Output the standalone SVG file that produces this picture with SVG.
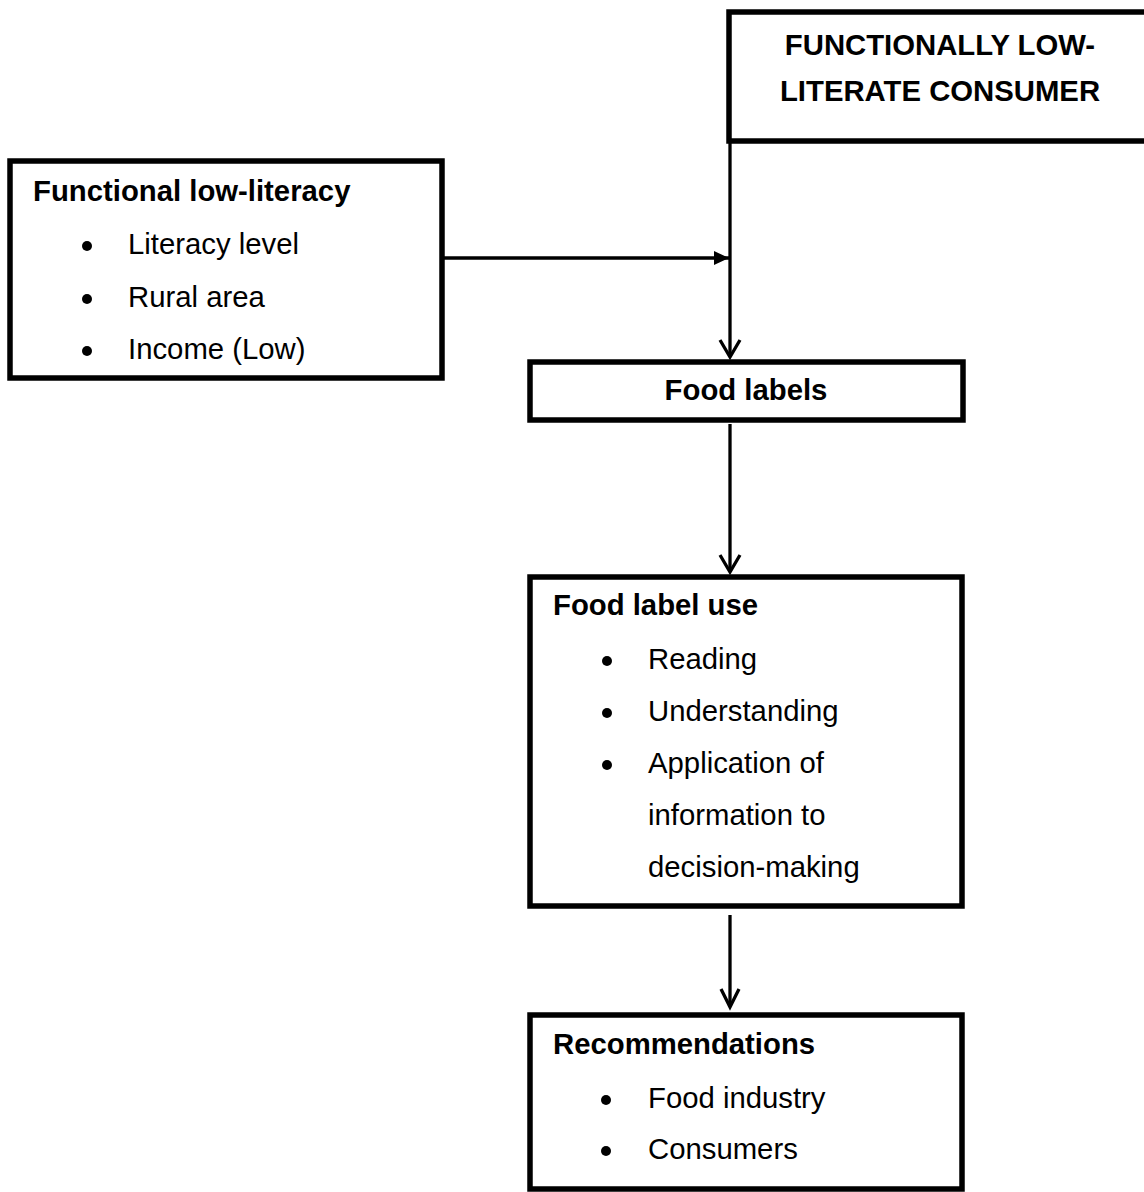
<svg xmlns="http://www.w3.org/2000/svg" width="1144" height="1192" viewBox="0 0 1144 1192">
<style>
.box{fill:#fff;stroke:#000;stroke-width:5.5}
.t{font-family:"Liberation Sans",Arial,sans-serif;font-size:29.3px;fill:#000}
.b{font-weight:bold}
.c{text-anchor:middle}
.con{stroke:#000;stroke-width:3.3;fill:none}
.vh{stroke:#000;stroke-width:3.3;fill:none;stroke-linecap:butt;stroke-linejoin:miter}
</style>
<defs>
<marker id="tri" markerWidth="16" markerHeight="14" refX="15" refY="7" orient="auto" markerUnits="userSpaceOnUse">
<path d="M0,0 L15,7 L0,14 Z" fill="#000"/>
</marker>
</defs>
<rect width="1144" height="1192" fill="#fff"/>
<g id="connectors">
<line class="con" x1="730" y1="141" x2="730" y2="356"/>
<polyline class="vh" points="720,340 730,357 740,340"/>
<line class="con" x1="442" y1="258" x2="729" y2="258" marker-end="url(#tri)"/>
<line class="con" x1="730" y1="424" x2="730" y2="571"/>
<polyline class="vh" points="720,555 730,572 740,555"/>
<line class="con" x1="730" y1="915" x2="730" y2="1006"/>
<polyline class="vh" points="721,989 730,1007 739,989"/>
</g>
<g id="consumer">
<rect class="box" x="729" y="12" width="430" height="129"/>
<text class="t b c" x="940" y="55">FUNCTIONALLY LOW-</text>
<text class="t b c" x="940" y="101">LITERATE CONSUMER</text>
</g>
<g id="low-literacy">
<rect class="box" x="10" y="161" width="432" height="217"/>
<text class="t b" x="33" y="201">Functional low-literacy</text>
<circle cx="87" cy="246" r="5"/>
<text class="t" x="128" y="254">Literacy level</text>
<circle cx="87" cy="299" r="5"/>
<text class="t" x="128" y="307">Rural area</text>
<circle cx="87" cy="351" r="5"/>
<text class="t" x="128" y="359">Income (Low)</text>
</g>
<g id="food-labels">
<rect class="box" x="530" y="362" width="433" height="58"/>
<text class="t b c" x="746" y="400">Food labels</text>
</g>
<g id="label-use">
<rect class="box" x="530" y="577" width="432" height="329"/>
<text class="t b" x="553" y="615">Food label use</text>
<circle cx="607" cy="661" r="5"/>
<text class="t" x="648" y="669">Reading</text>
<circle cx="607" cy="713" r="5"/>
<text class="t" x="648" y="721">Understanding</text>
<circle cx="607" cy="765" r="5"/>
<text class="t" x="648" y="773">Application of</text>
<text class="t" x="648" y="825">information to</text>
<text class="t" x="648" y="877">decision-making</text>
</g>
<g id="recommendations">
<rect class="box" x="530" y="1015" width="432" height="174"/>
<text class="t b" x="553" y="1054">Recommendations</text>
<circle cx="606" cy="1100" r="5"/>
<text class="t" x="648" y="1108">Food industry</text>
<circle cx="606" cy="1151" r="5"/>
<text class="t" x="648" y="1159">Consumers</text>
</g>
</svg>
